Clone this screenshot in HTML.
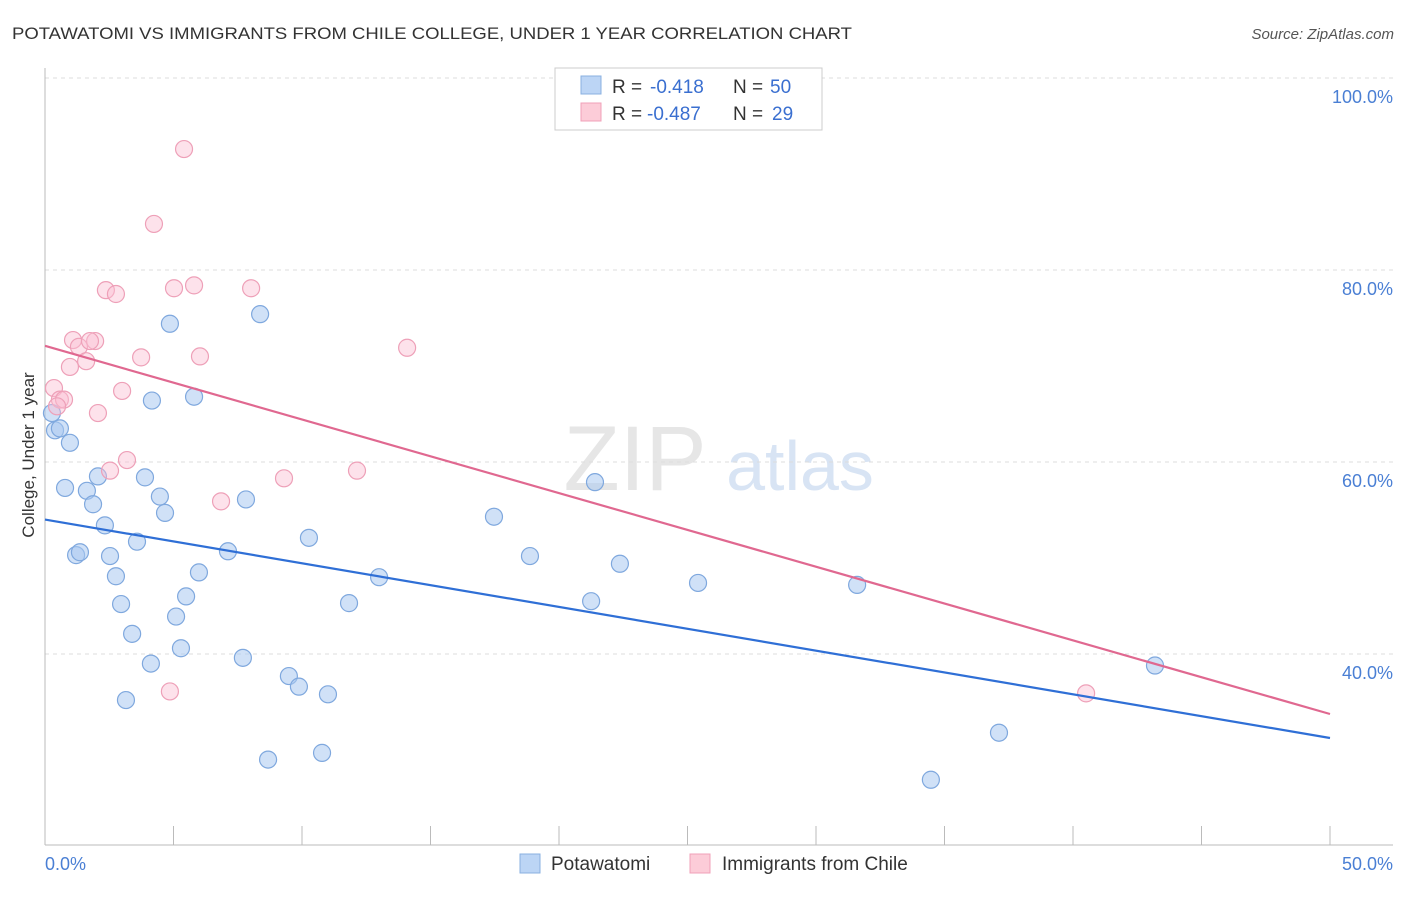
<!DOCTYPE html>
<html><head><meta charset="utf-8"><style>
body{margin:0;background:#fff;font-family:"Liberation Sans",sans-serif}
svg text{font-family:"Liberation Sans",sans-serif}
</style></head><body>
<svg id="c" width="1406" height="892" xmlns="http://www.w3.org/2000/svg">
<text x="12" y="39" font-size="17" fill="#333" textLength="840" lengthAdjust="spacingAndGlyphs">POTAWATOMI VS IMMIGRANTS FROM CHILE COLLEGE, UNDER 1 YEAR CORRELATION CHART</text>
<text x="1394" y="39" font-size="15" fill="#555" text-anchor="end" font-style="italic">Source: ZipAtlas.com</text>
<text x="635" y="490" font-size="92" fill="#e6e6e6" font-family="Liberation Serif" text-anchor="middle">ZIP</text>
<text x="800" y="490" font-size="70" fill="#d8e4f4" text-anchor="middle">atlas</text>
<g id="grid"></g><g id="axes"></g><g id="marks"></g>
<text x="-455" y="34" transform="rotate(-90)" font-size="17" fill="#333" text-anchor="middle">College, Under 1 year</text>
<text x="45" y="870" font-size="18" fill="#4a7fd4">0.0%</text>
<text x="1393" y="870" font-size="18" fill="#4a7fd4" text-anchor="end">50.0%</text>
<g>
<rect x="555" y="68" width="267" height="62" fill="#fff" stroke="#ccc"/>
<rect x="581" y="76" width="20" height="18" fill="#bcd5f5" stroke="#8ab0e0"/>
<rect x="581" y="103" width="20" height="18" fill="#fcccd8" stroke="#f0a0b8"/>
<text x="612" y="93" font-size="19" fill="#333">R =<tspan x="650" fill="#3a6fd0">-0.418</tspan><tspan x="733">N =</tspan><tspan x="770" fill="#3a6fd0">50</tspan></text>
<text x="612" y="120" font-size="19" fill="#333">R =<tspan x="647" fill="#3a6fd0">-0.487</tspan><tspan x="733">N =</tspan><tspan x="772" fill="#3a6fd0">29</tspan></text>
</g>
<g>
<rect x="520" y="854" width="20" height="19" fill="#bcd5f5" stroke="#8ab0e0"/>
<text x="551" y="870" font-size="19" fill="#333">Potawatomi</text>
<rect x="690" y="854" width="20" height="19" fill="#fcccd8" stroke="#f0a0b8"/>
<text x="722" y="870" font-size="19" fill="#333">Immigrants from Chile</text>
</g>
</svg>
<script>
const blueX=[0.27,0.39,0.58,0.97,0.78,1.63,2.06,1.87,2.33,1.21,1.36,2.53,2.76,2.96,3.39,3.58,3.15,4.12,3.89,4.16,4.47,4.67,4.86,5.29,5.10,5.49,5.80,5.99,7.12,7.70,7.82,8.37,8.68,9.49,9.88,10.27,10.78,11.01,11.83,13.00,17.47,18.87,21.25,21.40,22.37,25.41,31.60,34.47,37.12,43.19];
const blueY=[65.1,63.3,63.5,62.0,57.3,57.0,58.5,55.6,53.4,50.3,50.6,50.2,48.1,45.2,42.1,51.7,35.2,39.0,58.4,66.4,56.4,54.7,74.4,40.6,43.9,46.0,66.8,48.5,50.7,39.6,56.1,75.4,29.0,37.7,36.6,52.1,29.7,35.8,45.3,48.0,54.3,50.2,45.5,57.9,49.4,47.4,47.2,26.9,31.8,38.8];
const pinkX=[5.41,4.24,2.37,2.76,5.02,5.80,8.02,1.09,1.32,1.95,1.75,1.60,0.97,3.74,6.03,14.09,0.35,3.00,0.58,0.74,0.47,2.06,3.19,2.53,6.85,9.30,12.14,4.86,40.51];
const pinkY=[92.6,84.8,77.9,77.5,78.1,78.4,78.1,72.7,72.0,72.6,72.6,70.5,69.9,70.9,71.0,71.9,67.7,67.4,66.5,66.5,65.8,65.1,60.2,59.1,55.9,58.3,59.1,36.1,35.9];
const blueTrend=[54.0,31.25];
const pinkTrend=[72.1,33.75];
const yTicks=[100,80,60,40];
const yTickLabels=["100.0%","80.0%","60.0%","40.0%"];
const xTicks=[0,5,10,15,20,25,30,35,40,45,50];
const NS="http://www.w3.org/2000/svg";
const X=v=>45+v*25.7, Y=v=>78+(100-v)*9.6;
function mk(p,t,a){const e=document.createElementNS(NS,t);for(const k in a)e.setAttribute(k,a[k]);document.getElementById(p).appendChild(e);return e;}
yTicks.forEach((t,i)=>{
 const l=mk('grid','line',{x1:45,x2:1393,y1:Y(t),y2:Y(t),stroke:'#ddd','stroke-dasharray':'4,4'});
 
 
 const tx=mk('grid','text',{x:1393,y:Y(t)+25,'font-size':18,fill:'#4a7fd4','text-anchor':'end'});
 tx.textContent=yTickLabels[i];
 
 
});
let a=mk('axes','line',{x1:45,x2:45,y1:68,y2:845,stroke:'#bbb'});


a=mk('axes','line',{x1:45,x2:1393,y1:845,y2:845,stroke:'#bbb'});


xTicks.forEach(t=>{const e=mk('axes','line',{x1:X(t),x2:X(t),y1:826,y2:845,stroke:'#bbb'});
 
 });
function pts(xs,ys,f,s,n){xs.forEach((x,i)=>{const c=mk('marks','circle',{cx:X(x),cy:Y(ys[i]),r:8.5,fill:f,stroke:s,'stroke-width':1.2});
 
 });}
pts(blueX,blueY,'rgba(170,200,240,0.55)','#7fa8de','potawatomi-point');
pts(pinkX,pinkY,'rgba(250,190,210,0.45)','#eea0b8','chile-point');
let t=mk('marks','line',{x1:X(0),y1:Y(blueTrend[0]),x2:X(50),y2:Y(blueTrend[1]),stroke:'#2f6fd6','stroke-width':2.2});


t=mk('marks','line',{x1:X(0),y1:Y(pinkTrend[0]),x2:X(50),y2:Y(pinkTrend[1]),stroke:'#e06890','stroke-width':2.2});


</script>
</body></html>
